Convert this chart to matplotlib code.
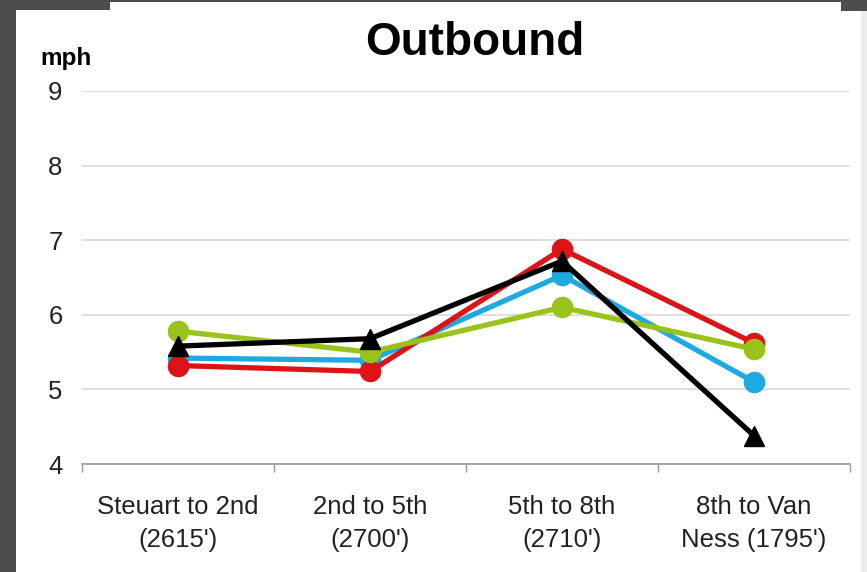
import matplotlib
matplotlib.use("Agg")
import matplotlib.pyplot as plt
from matplotlib.patches import Rectangle

plt.rcParams['font.family'] = ['Liberation Sans', 'DejaVu Sans']

# Segment labels and average speeds (mph)
segments = ["Steuart to 2nd\n(2615')", "2nd to 5th\n(2700')",
            "5th to 8th\n(2710')", "8th to Van\nNess (1795')"]
speed_blue = [5.42, 5.39, 6.53, 5.10]
speed_red = [5.32, 5.24, 6.88, 5.62]
speed_green = [5.78, 5.50, 6.10, 5.54]
speed_black = [5.58, 5.68, 6.72, 4.38]
y_ticks = [4, 5, 6, 7, 8, 9]

W, H = 867, 572
fig = plt.figure(figsize=(W / 100, H / 100), dpi=100)
fig.patch.set_facecolor("white")

# Slide frame around the white panel
dark = "#4d4d4d"
def frame_rect(x0, y0, w, h, color):
    fig.patches.append(Rectangle((x0 / W, 1 - (y0 + h) / H), w / W, h / H,
                                 transform=fig.transFigure, color=color,
                                 zorder=-10, lw=0))
frame_rect(0, 0, W, 2, dark)
frame_rect(0, 0, 16, H, dark)
frame_rect(0, 0, 110, 10, dark)
frame_rect(841, 0, W - 841, 11, dark)
frame_rect(861, 11, W - 861, H - 11, "#ededed")

ax = fig.add_axes([82 / W, 1 - 464 / H, (850 - 82) / W, (464 - 91) / H])
ax.set_facecolor("none")

x = list(range(len(segments)))
lw, ms = 3.8, 14.5
ax.plot(x, speed_blue, color="#1fa9e1", lw=lw, marker="o", ms=ms, zorder=3)
ax.plot(x, speed_red, color="#dc1418", lw=lw, marker="o", ms=ms, zorder=4)
ax.plot(x, speed_green, color="#99c31a", lw=lw, marker="o", ms=ms, zorder=5)
ax.plot(x, speed_black, color="#000000", lw=lw, marker="^", ms=14, zorder=6)

ax.set_xlim(-0.5, len(segments) - 0.5)
ax.set_ylim(4, 9)
ax.set_yticks(y_ticks)
ax.set_yticklabels([str(v) for v in y_ticks])
ax.grid(axis="y", color="#d9d9d9", lw=1.2, zorder=0)
ax.set_axisbelow(True)

ax.set_xticks(x)
ax.set_xticklabels(segments, linespacing=1.5)
ax.set_xticks([i - 0.5 for i in range(len(segments) + 1)], minor=True)
ax.tick_params(axis="x", which="major", length=0, pad=22, labelsize=18.5,
               labelcolor="#222222")
ax.tick_params(axis="x", which="minor", length=6, color="#999999", width=1)
ax.tick_params(axis="y", length=0, pad=14, labelsize=18.5, labelcolor="#222222")

for side in ("top", "right", "left"):
    ax.spines[side].set_visible(False)
ax.spines["bottom"].set_color("#999999")
ax.spines["bottom"].set_linewidth(1.2)

fig.text(475 / W, 1 - 43 / H, "Outbound", ha="center", va="center",
         fontsize=33, fontweight="bold", color="black")
fig.text(40 / W, 1 - 59 / H, "mph", ha="left", va="center",
         fontsize=17.5, fontweight="bold", color="black")

fig.savefig("out.png", dpi=100)
